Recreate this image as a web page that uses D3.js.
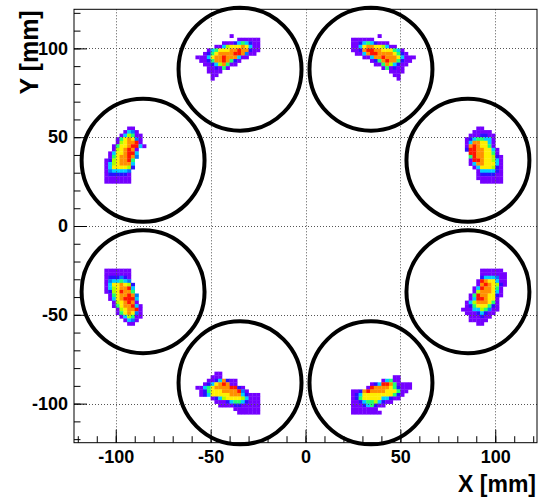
<!DOCTYPE html>
<html>
<head>
<meta charset="utf-8">
<script src="https://cdn.jsdelivr.net/npm/d3@7"></script>
<style>
body { margin: 0; background: #fff; }
svg { display: block; }
text { font-family: "Liberation Sans", Arial, Helvetica, sans-serif; font-weight: bold; }
</style>
</head>
<body>
<div id="chart"></div>
<script>
// histogram range, 2 mm bins
const xRange = [-122, 122];
const yRange = [-122, 122];
const binSize = 2;

const xMajor = [-100, -50, 0, 50, 100];
const yMajor = [-100, -50, 0, 50, 100];
const minorTicks = [-120, -110, -100, -90, -80, -70, -60, -50, -40, -30, -20, -10, 0,
                    10, 20, 30, 40, 50, 60, 70, 80, 90, 100, 110, 120];

// detector outlines (mm)
const circleX = [-34.5, 34.5, -85.6, 85.6, -85.6, 85.6, -34.5, 34.5];
const circleY = [88.3, 88.3, 37, 37, -37, -37, -88.3, -88.3];
const circleR = 32.4;

// colour levels 1..9 per bin, rows from top, '.' = empty
const blobTL = [
    ".........1.......",
    "...........111111",
    ".......1112454211",
    ".....114677787411",
    "...14577788988211",
    "..12578888998311.",
    "11147889888411...",
    ".11258898521.....",
    "..112468511......",
    "...112151........",
    "...1111..........",
    "....11...........",
    "....1............"
];
const blobTR = [
    ".......1.........",
    "111111...........",
    "1124542111.......",
    "114788776411.....",
    "11289988777541...",
    ".11489988887521..",
    "...11488988874111",
    ".....12589885211.",
    "......115864211..",
    "........151211...",
    "..........1111...",
    "...........11....",
    "............1...."
];
const blobL1 = [
    "......11...",
    ".....1431..",
    "....146511.",
    "...1578731.",
    "...1678891.",
    "..157789941",
    "..1678981..",
    ".14778994..",
    ".15788983..",
    "12678895...",
    "14678884...",
    "14777762...",
    "1344443....",
    "1222221....",
    "1111111....",
    "1111111...."
];
const blobR1 = [
    "...11......",
    "..11111....",
    ".1112211...",
    "12455441...",
    "14887741...",
    "18987751...",
    "299887741..",
    ".99887751..",
    ".598877621.",
    ".199877641.",
    ".148877741.",
    "..14777621.",
    "...1444421.",
    "...1222211.",
    "...1111111.",
    "....111111."
];
const blobL2 = [
    "1111111....",
    "1111111....",
    "1222321....",
    "1344543....",
    "14778762...",
    "14678894...",
    "12679885...",
    ".15788983..",
    ".14789994..",
    "..1678981..",
    "..15788941.",
    "...1678891.",
    "...1578731.",
    "....146511.",
    ".....1431..",
    "......11..."
];
const blobR2 = [
    ".....111111.",
    ".....1111111",
    ".....2444311",
    "....19877411",
    "....18987621",
    "...14988751.",
    "...16888741.",
    "..159887721.",
    "..14998771..",
    ".146888751..",
    ".125777521..",
    "1114465311..",
    ".11124211...",
    "..111211....",
    "..11111.....",
    "....11......"
];
const blobBL = [
    ".....11..........",
    "....111..........",
    "...11248211......",
    "..124789811......",
    "1145788889921....",
    ".1257778888931...",
    ".1247777788842111",
    "....1246777764111",
    ".....111245542111",
    "......11112211111",
    "..........1111111",
    "...........111111"
];
const blobBR = [
    "...........11....",
    "........14511....",
    ".....12499851111.",
    "....198888752111.",
    "112898888777511..",
    "12477777777521...",
    "1257777744211....",
    "11245564211......",
    "111245211........",
    "1111111..........",
    "11111111........."
];

// lower-left x edge and upper y edge of each block (mm)
const blobRows = [blobTL, blobTR, blobL1, blobR1, blobL2, blobR2, blobBL, blobBR];
const blobX0   = [-58, 24, -106, 84, -106, 82, -58, 24];
const blobYTop = [108, 108, 56, 56, -24, -24, -82, -84];

const palette = ["#7400ff", "#2a10ff", "#0078ff", "#00ccff", "#20ff70",
                 "#aaff00", "#ffee00", "#ff9000", "#ff1400"];

const W = 542, H = 497;
const frame = {left: 74, right: 537, top: 9.3, bottom: 442.7};

const svg = d3.select("#chart").append("svg")
    .attr("width", W)
    .attr("height", H);

svg.append("rect").attr("width", W).attr("height", H).attr("fill", "#fff");

const scx = d3.scaleLinear(xRange, [frame.left, frame.right]);
const scy = d3.scaleLinear(yRange, [frame.bottom, frame.top]);

// flatten the blocks into bins
let bins = [];
blobRows.forEach((rows, i) => {
    rows.forEach((row, r) => {
        [...row].forEach((ch, c) => {
            if (ch === ".") return;
            bins.push({
                x: blobX0[i] + c * binSize,
                y: blobYTop[i] - (r + 1) * binSize,
                z: +ch
            });
        });
    });
});

svg.append("g").selectAll("rect")
    .data(bins)
    .join("rect")
    .attr("x", d => scx(d.x))
    .attr("y", d => scy(d.y + binSize))
    .attr("width", d => scx(d.x + binSize) - scx(d.x) + 0.3)
    .attr("height", d => scy(d.y) - scy(d.y + binSize) + 0.3)
    .attr("fill", d => palette[d.z - 1]);

// dotted grid
const grid = svg.append("g")
    .attr("stroke", "#555")
    .attr("stroke-width", 1)
    .attr("stroke-dasharray", "1,2");

grid.selectAll(".gx")
    .data(xMajor)
    .join("line")
    .attr("class", "gx")
    .attr("x1", d => Math.round(scx(d)) + 0.5)
    .attr("x2", d => Math.round(scx(d)) + 0.5)
    .attr("y1", frame.top)
    .attr("y2", frame.bottom);

grid.selectAll(".gy")
    .data(yMajor)
    .join("line")
    .attr("class", "gy")
    .attr("y1", d => Math.round(scy(d)) + 0.5)
    .attr("y2", d => Math.round(scy(d)) + 0.5)
    .attr("x1", frame.left)
    .attr("x2", frame.right);

// axes, ticks pointing inward, plain hyphen for negatives
const fmt = d => String(d);

const axX = svg.append("g").attr("transform", `translate(0,${frame.bottom})`);
axX.call(d3.axisBottom(scx).tickValues(minorTicks).tickSizeInner(-6.5).tickSizeOuter(0).tickFormat(""));
axX.append("g").call(d3.axisBottom(scx).tickValues(xMajor).tickSizeInner(-13).tickSizeOuter(0).tickPadding(8).tickFormat(fmt));

const axY = svg.append("g").attr("transform", `translate(${frame.left},0)`);
axY.call(d3.axisLeft(scy).tickValues(minorTicks).tickSizeInner(-6.5).tickSizeOuter(0).tickFormat(""));
axY.append("g").call(d3.axisLeft(scy).tickValues(yMajor).tickSizeInner(-13).tickSizeOuter(0).tickPadding(6).tickFormat(fmt));

svg.selectAll(".domain").remove();
svg.selectAll(".tick line").attr("stroke", "#000");
svg.selectAll(".tick text")
    .attr("fill", "#000")
    .style("font-size", "18px")
    .style("font-family", "'Liberation Sans', Arial, sans-serif")
    .style("font-weight", "bold");

// frame
svg.append("rect")
    .attr("x", frame.left)
    .attr("y", frame.top)
    .attr("width", frame.right - frame.left)
    .attr("height", frame.bottom - frame.top)
    .attr("fill", "none")
    .attr("stroke", "#000")
    .attr("stroke-width", 1);

// detector circles
svg.append("g").selectAll("circle")
    .data(circleX.map((cx, i) => ({x: cx, y: circleY[i]})))
    .join("circle")
    .attr("cx", d => scx(d.x))
    .attr("cy", d => scy(d.y))
    .attr("r", scx(circleR) - scx(0))
    .attr("fill", "none")
    .attr("stroke", "#000")
    .attr("stroke-width", 4);

// axis titles
svg.append("text")
    .attr("x", frame.right - 1)
    .attr("y", 492)
    .attr("text-anchor", "end")
    .style("font-size", "23px")
    .text("X [mm]");

svg.append("text")
    .attr("transform", `translate(38,${frame.top + 1}) rotate(-90)`)
    .attr("text-anchor", "end")
    .style("font-size", "25px")
    .text("Y [mm]");
</script>
</body>
</html>
